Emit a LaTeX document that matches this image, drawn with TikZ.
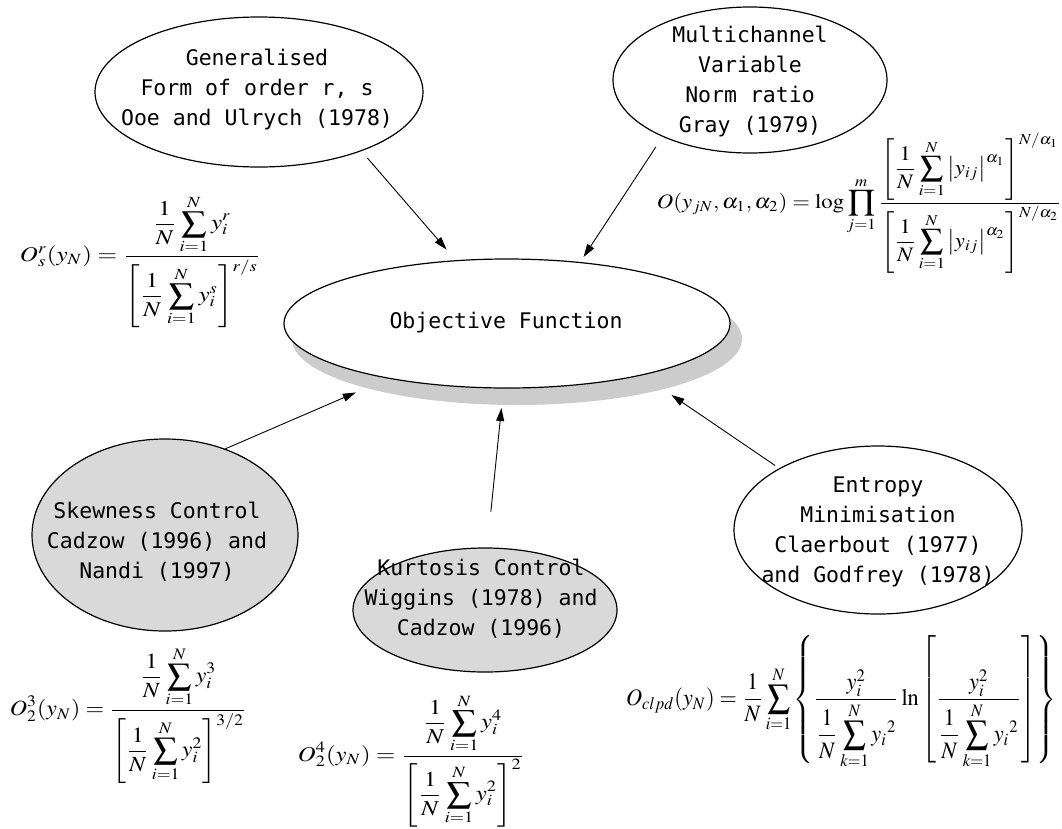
\documentclass[tikz,border=0pt]{standalone}
\usepackage[no-math]{fontspec}
\usepackage{mathptmx}
\usepackage{graphicx}
\usetikzlibrary{shapes.geometric, arrows.meta}
\newfontfamily\bubblefont{DejaVu Sans Mono}
\newcommand{\fitformula}[3]{\resizebox*{#1}{#2}{$\displaystyle #3$}}
\tikzset{
    bubble/.style={ellipse, draw, line width=1.2pt, inner sep=0pt, fill=white},
    greybubble/.style={bubble, fill=gray!30},
    bubbletext/.style={font={\bubblefont\fontsize{21.5}{30}\selectfont},
        align=center, inner sep=0pt},
    link/.style={-{Triangle[length=13pt, width=8pt]}, line width=0.9pt},
    formula/.style={inner sep=0pt},
}

\begin{document}
\begin{tikzpicture}[x=1pt, y=-1pt]
    \useasboundingbox (0, 0) rectangle (1062, 828);
    % central node with its shadow
    \node[ellipse, fill=gray!40, minimum width=450pt, minimum height=132pt]
        (objshadow) at (517, 339) {};
    \node[bubble, minimum width=446pt, minimum height=129pt] (obj) at (507, 323.5) {};
    \node[bubbletext] at (506, 323) {Objective Function};

    \node[bubble, minimum width=328pt, minimum height=150pt] (gen) at (259, 92) {};
    \node[bubbletext] at (257, 90) {Generalised\\Form of order r, s\\Ooe and Ulrych (1978)};
    \node[bubble, minimum width=274pt, minimum height=146pt] (multi) at (750, 80) {};
    \node[bubbletext] at (750, 82) {Multichannel\\Variable\\Norm ratio\\Gray (1979)};
    \node[greybubble, minimum width=266pt, minimum height=192pt] (skew) at (165, 535) {};
    \node[bubbletext] at (157, 542) {Skewness Control\\Cadzow (1996) and\\Nandi (1997)};
    \node[greybubble, minimum width=264pt, minimum height=124pt] (kurt) at (485, 610) {};
    \node[bubbletext] at (481, 599) {Kurtosis Control\\Wiggins (1978) and\\Cadzow (1996)};
    \node[bubble, minimum width=288pt, minimum height=168pt] (entropy) at (878, 530) {};
    \node[bubbletext] at (878, 532) {Entropy\\Minimisation\\Claerbout (1977)\\and Godfrey (1978)};

    \draw[link, shorten <=9pt, shorten >=14pt] (gen.-30) -- (obj.129);
    \draw[link, shorten <=12pt, shorten >=6pt] (multi.213) -- (obj.40);
    \draw[link, shorten >=11pt] (skew.55) -- (objshadow.198);
    \draw[link, shorten <=36pt, shorten >=3pt] (kurt.88) -- (objshadow.257);
    \draw[link, shorten <=5pt, shorten >=10pt] (entropy.148) -- (objshadow.341);

    \node[formula] (osr) at (140.5, 261.5) {\fitformula{241pt}{133pt}{
        O_s^r(y_N)=\frac{\displaystyle\frac{1}{N}\sum_{i=1}^{N}y_i^r}
        {\displaystyle\left[\frac{1}{N}\sum_{i=1}^{N}y_i^s\right]^{r/s}}}};
    \node[formula] (onorm) at (859.5, 203) {\fitformula{405pt}{140pt}{
        O(y_{jN},\alpha_1,\alpha_2)=\log\prod_{j=1}^{m}
        \frac{\displaystyle\left[\frac{1}{N}\sum_{i=1}^{N}\left|y_{ij}\right|^{\alpha_1}\right]^{N/\alpha_1}}
        {\displaystyle\left[\frac{1}{N}\sum_{i=1}^{N}\left|y_{ij}\right|^{\alpha_2}\right]^{N/\alpha_2}}}};
    \node[formula] (oskew) at (128.5, 715.5) {\fitformula{237pt}{137pt}{
        O_2^3(y_N)=\frac{\displaystyle\frac{1}{N}\sum_{i=1}^{N}y_i^3}
        {\displaystyle\left[\frac{1}{N}\sum_{i=1}^{N}y_i^2\right]^{3/2}}}};
    \node[formula] (okurt) at (411.5, 760.5) {\fitformula{227pt}{133pt}{
        O_2^4(y_N)=\frac{\displaystyle\frac{1}{N}\sum_{i=1}^{N}y_i^4}
        {\displaystyle\left[\frac{1}{N}\sum_{i=1}^{N}y_i^2\right]^{2}}}};
    \node[formula] (oclpd) at (841, 702.5) {\fitformula{430pt}{133pt}{
        O_{clpd}(y_N)=\frac{1}{N}\sum_{i=1}^{N}\left\{
        \frac{y_i^2}{\displaystyle\frac{1}{N}\sum_{k=1}^{N}{y_i}^2}
        \ln\left[\frac{y_i^2}{\displaystyle\frac{1}{N}\sum_{k=1}^{N}{y_i}^2}\right]\right\}}};
\end{tikzpicture}
\end{document}
